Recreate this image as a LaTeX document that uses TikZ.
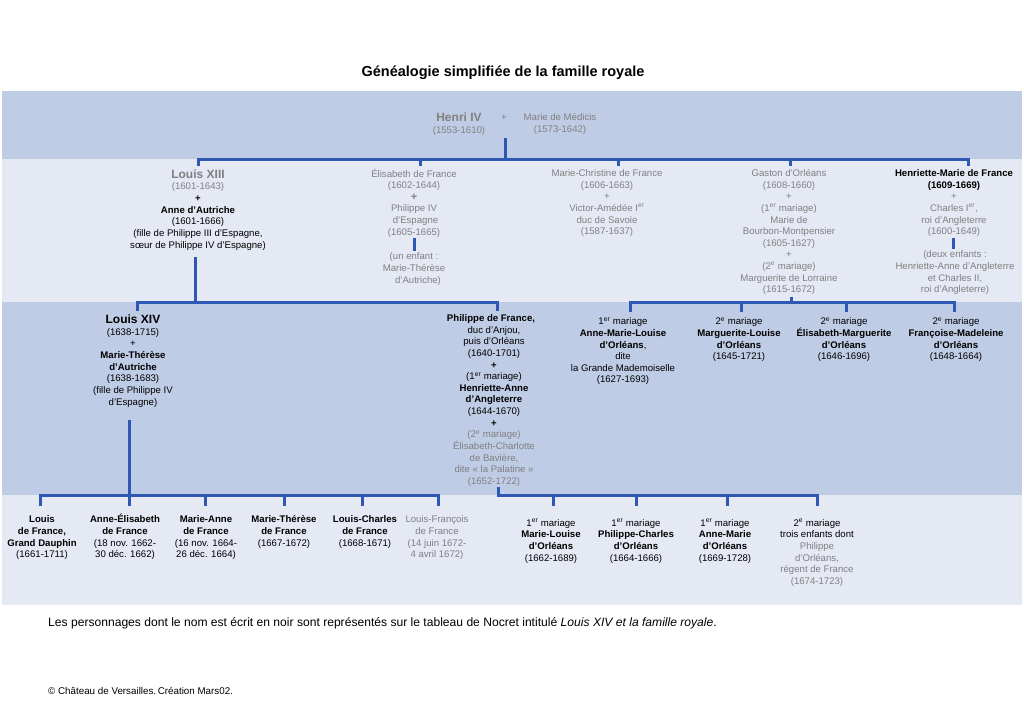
\documentclass[tikz,border=0pt]{standalone}
\usepackage{fontspec}
\setmainfont{Liberation Sans}
\definecolor{bandD}{RGB}{191,204,229}
\definecolor{bandL}{RGB}{229,233,244}
\definecolor{lineblue}{RGB}{46,88,180}
\definecolor{txtgray}{RGB}{128,128,128}
\newcommand\fs{\fontsize{9.6}{11.65}\selectfont}
\newcommand\fl{\rule{0pt}{9pt}}
\newcommand\gry[1]{\textcolor{txtgray}{#1}}
\newcommand\bigN[1]{{\fontsize{12}{11.65}\selectfont\bfseries #1}}
\newcommand\supx[1]{\textsuperscript{#1}}
\begin{document}
\begin{tikzpicture}[x=1pt,y=-1pt,
  conn/.style={draw=lineblue,line width=3pt},
  tnode/.style={align=center,inner sep=0pt,anchor=north,font=\fs}]
\fill[white] (0,0) rectangle (1024,723);
\useasboundingbox (0,0) rectangle (1024,723);
% bands
\fill[bandD] (2,91) rectangle (1022,159);
\fill[bandL] (2,159) rectangle (1022,302);
\fill[bandD] (2,302) rectangle (1022,495);
\fill[bandL] (2,495) rectangle (1022,605);

% title
\node[font=\fontsize{14.5}{17}\selectfont\bfseries,anchor=base,inner sep=0pt] (title) at (503,76) {Généalogie simplifiée de la famille royale};

% generation 1
\node[tnode] (henri) at (459,112.3) {\fl\bigN{\gry{Henri IV}}\\ \gry{(1553-1610)}};
\node[tnode] (hplus) at (504,111.5) {\fl\gry{+}};
\node[tnode] (marie) at (560,111.5) {\fl\gry{Marie de Médicis}\\ \gry{(1573-1642)}};

% generation 2
\node[tnode] (louis13) at (198,169) {\fl\bigN{\gry{Louis XIII}}\\ \gry{(1601-1643)}\\ \textbf{+}\\ \textbf{Anne d’Autriche}\\ (1601-1666)\\ (fille de Philippe III d’Espagne,\\ sœur de Philippe IV d’Espagne)};
\node[tnode] (elis) at (414,167.8) {\fl\gry{Élisabeth de France}\\ \gry{(1602-1644)}\\ \gry{\textbf{\fontsize{11}{11}\selectfont +}}\\ \gry{Philippe IV}\\ \gry{\hspace*{3pt}d’Espagne}\\ \gry{(1605-1665)}};
\node[tnode] (elisenf) at (414,250.5) {\fl\gry{(un enfant :}\\ \gry{Marie-Thérèse}\\ \gry{\hspace*{8pt}d’Autriche)}};
\node[tnode] (mchris) at (607,167.2) {\fl\gry{Marie-Christine de France}\\ \gry{(1606-1663)}\\ \gry{+}\\ \gry{Victor-Amédée I\supx{er}}\\ \gry{duc de Savoie}\\ \gry{(1587-1637)}};
\node[tnode] (gaston) at (789,167.2) {\fl\gry{Gaston d’Orléans}\\ \gry{(1608-1660)}\\ \gry{+}\\ \gry{(1\supx{er} mariage)}\\ \gry{Marie de}\\ \gry{Bourbon-Montpensier}\\ \gry{(1605-1627)}\\ \gry{+}\\ \gry{(2\supx{e} mariage)}\\ \gry{Marguerite de Lorraine}\\ \gry{(1615-1672)}};
\node[tnode] (hmarie) at (954,167.2) {\fl\textbf{Henriette-Marie de France}\\ \textbf{(1609-1669)}\\ \gry{+}\\ \gry{Charles I\supx{er},}\\ \gry{roi d’Angleterre}\\ \gry{(1600-1649)}};
\node[tnode] (hmenf) at (955,248.5) {\fl\gry{(deux enfants :}\\ \gry{Henriette-Anne d’Angleterre}\\ \gry{et Charles II,}\\ \gry{roi d’Angleterre)}};

% generation 3
\node[tnode] (louis14) at (133,314.3) {\fl\bigN{Louis XIV}\\ (1638-1715)\\ +\\ \textbf{Marie-Thérèse}\\ \textbf{d’Autriche}\\ (1638-1683)\\ (fille de Philippe IV\\ d’Espagne)};
\node[tnode] (philippe) at (494,312.2) {\fl\textbf{Philippe de France,}\hspace*{6pt}\\ duc d’Anjou,\\ puis d’Orléans\\ (1640-1701)\\ \textbf{+}\\ (1\supx{er} mariage)\\ \textbf{Henriette-Anne}\\ \textbf{d’Angleterre}\\ (1644-1670)\\ \textbf{+}\\ \gry{(2\supx{e} mariage)}\\ \gry{Élisabeth-Charlotte}\\ \gry{de Bavière,}\\ \gry{dite « la Palatine »}\\ \gry{(1652-1722)}};
\node[tnode] (amlouise) at (623,315.5) {\fl 1\supx{er} mariage\\ \textbf{Anne-Marie-Louise}\\ \textbf{d’Orléans},\\ dite\\ la Grande Mademoiselle\\ (1627-1693)};
\node[tnode] (mlouise) at (739,315.5) {\fl 2\supx{e} mariage\\ \textbf{Marguerite-Louise}\\ \textbf{d’Orléans}\\ (1645-1721)};
\node[tnode] (emarg) at (844,315.5) {\fl 2\supx{e} mariage\\ \textbf{Élisabeth-Marguerite}\\ \textbf{d’Orléans}\\ (1646-1696)};
\node[tnode] (fmad) at (956,315.5) {\fl 2\supx{e} mariage\\ \textbf{Françoise-Madeleine}\\ \textbf{d’Orléans}\\ (1648-1664)};

% generation 4
\node[tnode] (dauphin) at (42,513.5) {\fl\textbf{Louis}\\ \textbf{de France,}\\ \textbf{Grand Dauphin}\\ (1661-1711)};
\node[tnode] (aelis) at (125,513.5) {\fl\textbf{Anne-Élisabeth}\\ \textbf{de France}\\ (18 nov. 1662-\\ 30 déc. 1662)};
\node[tnode] (manne) at (206,513.5) {\fl\textbf{Marie-Anne}\\ \textbf{de France}\\ (16 nov. 1664-\\ 26 déc. 1664)};
\node[tnode] (mtherese) at (284,513.5) {\fl\textbf{Marie-Thérèse}\\ \textbf{de France}\\ (1667-1672)};
\node[tnode] (lcharles) at (365,513.5) {\fl\textbf{Louis-Charles}\\ \textbf{de France}\\ (1668-1671)};
\node[tnode] (lfrancois) at (437,513.5) {\fl\gry{Louis-François}\\ \gry{de France}\\ \gry{(14 juin 1672-}\\ \gry{4 avril 1672)}};
\node[tnode] (mlouise2) at (551,517) {\fl 1\supx{er} mariage\\ \textbf{Marie-Louise}\\ \textbf{d’Orléans}\\ (1662-1689)};
\node[tnode] (pcharles) at (636,517) {\fl 1\supx{er} mariage\\ \textbf{Philippe-Charles}\\ \textbf{d’Orléans}\\ (1664-1666)};
\node[tnode] (amarie) at (725,517) {\fl 1\supx{er} mariage\\ \textbf{Anne-Marie}\\ \textbf{d’Orléans}\\ (1669-1728)};
\node[tnode] (trois) at (817,517) {\fl 2\supx{e} mariage\\ trois enfants dont\\ \gry{Philippe}\hspace*{8pt}\\ \gry{d’Orléans,}\\ \gry{régent de France}\\ \gry{(1674-1723)}};

% notes
\node[anchor=base west,inner sep=0pt,font=\fontsize{12.1}{14}\selectfont] (note) at (48,626) {Les personnages dont le nom est écrit en noir sont représentés sur le tableau de Nocret intitulé \textit{Louis XIV et la famille royale}.};
\node[anchor=base west,inner sep=0pt,font=\fontsize{9.8}{11}\selectfont] (copy) at (48,694) {© Château de Versailles.\,Création Mars02.};

% connectors generation 1 -> 2
\coordinate (h4top) at (505,138);
\coordinate (bar1) at (505,159);
\coordinate (d13) at (198,166);
\coordinate (dEl) at (420,166);
\coordinate (dMC) at (618,166);
\coordinate (dGa) at (790,166);
\coordinate (dHM) at (968,166);
\draw[conn] (h4top) -- (bar1);
\draw[conn] (d13) -- (d13 |- bar1) -- (dHM |- bar1) -- (dHM);
\foreach \c in {dEl,dMC,dGa} \draw[conn] (\c) -- (\c |- bar1);
\draw[conn] ([yshift=-1pt]elis.south) -- (elis.south |- elisenf.north);
\draw[conn] ([xshift=-1pt,yshift=-1pt]hmarie.south) -- ([xshift=-1pt]hmarie.south |- hmenf.north);

% Louis XIII -> Louis XIV, Philippe
\coordinate (l13bot) at (195,257);
\coordinate (bar2) at (195,302);
\coordinate (d14) at (137,311);
\coordinate (dPh) at (497,311);
\draw[conn] (l13bot) -- (bar2);
\draw[conn] (d14) -- (d14 |- bar2) -- (dPh |- bar2) -- (dPh);

% Gaston -> daughters
\coordinate (gaBot) at (791,297);
\coordinate (bar3) at (791,302);
\coordinate (dAML) at (630,312);
\coordinate (dML) at (741,312);
\coordinate (dEM) at (846,312);
\coordinate (dFM) at (954,312);
\draw[conn] (gaBot) -- (bar3);
\draw[conn] (dAML) -- (dAML |- bar3) -- (dFM |- bar3) -- (dFM);
\foreach \c in {dML,dEM} \draw[conn] (\c) -- (\c |- bar3);

% Louis XIV -> children
\coordinate (l14bot) at (129,420);
\coordinate (bar4) at (129,495);
\coordinate (dDau) at (40,506);
\coordinate (dAE) at (129,506);
\coordinate (dMA) at (205,506);
\coordinate (dMT) at (284,506);
\coordinate (dLC) at (362,506);
\coordinate (dLF) at (438,506);
\draw[conn] (l14bot) -- (dAE);
\draw[conn] (dDau) -- (dDau |- bar4) -- (dLF |- bar4) -- (dLF);
\foreach \c in {dMA,dMT,dLC} \draw[conn] (\c) -- (\c |- bar4);

% Philippe -> children
\coordinate (phBot) at (498,487);
\coordinate (dTR) at (817,506);
\coordinate (dML2) at (553,506);
\coordinate (dPC) at (636,506);
\coordinate (dAM) at (727,506);
\draw[conn] (phBot) -- (phBot |- bar4) -- (dTR |- bar4) -- (dTR);
\foreach \c in {dML2,dPC,dAM} \draw[conn] (\c) -- (\c |- bar4);
\end{tikzpicture}
\end{document}
